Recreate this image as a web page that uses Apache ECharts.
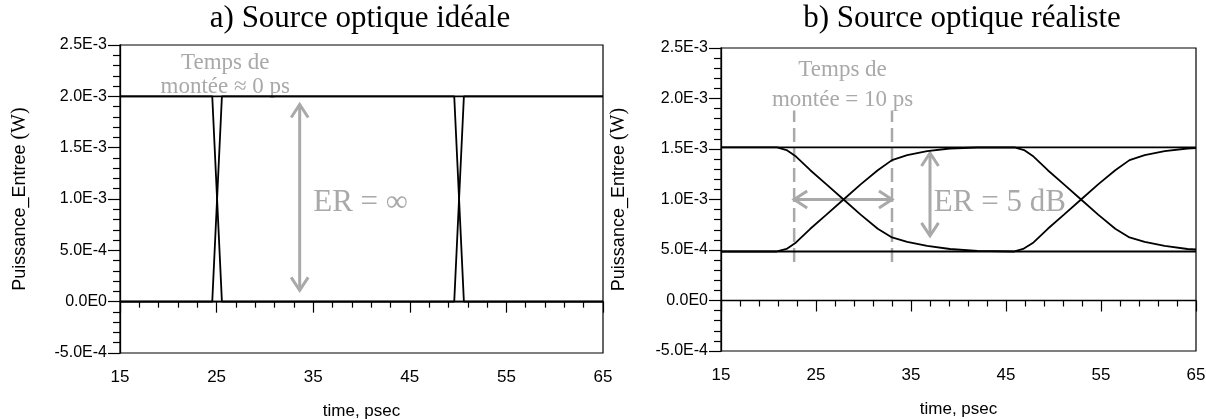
<!DOCTYPE html>
<html>
<head>
<meta charset="utf-8">
<script src="https://cdn.jsdelivr.net/npm/echarts@6/dist/echarts.min.js"></script>
<style>html,body{margin:0;padding:0;background:#fff;}#c{width:1206px;height:419px;}</style>
</head>
<body>
<div id="c"></div>
<script>
// ---------- data ----------
const titles = ['a) Source optique idéale', 'b) Source optique réaliste'];
const xTicks = [15, 25, 35, 45, 55, 65];
const yTicks = [-5e-4, 0, 5e-4, 1e-3, 1.5e-3, 2e-3, 2.5e-3];

// a) ideal source
const leftHigh = [[15, 2.0e-3], [65, 2.0e-3]];
const leftLow = [[15, 0], [65, 0]];
const leftTraceA = [[15, 0], [24.55, 0], [25.55, 2.0e-3], [49.6, 2.0e-3], [50.6, 0], [65, 0]];
const leftTraceB = [[15, 2.0e-3], [24.55, 2.0e-3], [25.55, 0], [49.6, 0], [50.6, 2.0e-3], [65, 2.0e-3]];

// b) realistic source
const rightHigh = [[15, 1.517e-3], [65, 1.517e-3]];
const rightLow = [[15, 0.485e-3], [65, 0.485e-3]];
const rightTraceA = [
  [15, 1.517e-3], [20.9, 1.517e-3], [21.9, 1.49e-3], [22.9, 1.425e-3], [24.4, 1.29e-3], [26.1, 1.15e-3],
  [27.9, 1.0e-3], [29.7, 0.85e-3], [31.5, 0.71e-3], [33.0, 0.624e-3], [34.6, 0.58e-3], [36.7, 0.54e-3],
  [39.1, 0.51e-3], [42.0, 0.492e-3], [45.8, 0.485e-3], [46.8, 0.51e-3], [47.9, 0.575e-3], [49.4, 0.71e-3],
  [51.1, 0.85e-3], [52.9, 1.0e-3], [54.7, 1.15e-3], [56.5, 1.29e-3], [58.0, 1.39e-3], [59.6, 1.44e-3],
  [61.7, 1.478e-3], [64.1, 1.505e-3], [65, 1.51e-3]
];
const rightTraceB = [
  [15, 0.485e-3], [20.8, 0.485e-3], [21.9, 0.51e-3], [22.9, 0.575e-3], [24.4, 0.71e-3], [26.1, 0.85e-3],
  [27.9, 1.0e-3], [29.7, 1.15e-3], [31.5, 1.29e-3], [33.0, 1.39e-3], [34.6, 1.44e-3], [36.7, 1.478e-3],
  [39.1, 1.505e-3], [42.0, 1.515e-3], [45.9, 1.517e-3], [46.9, 1.49e-3], [47.9, 1.425e-3], [49.4, 1.29e-3],
  [51.1, 1.15e-3], [52.9, 1.0e-3], [54.7, 0.85e-3], [56.5, 0.71e-3], [58.0, 0.624e-3], [59.6, 0.58e-3],
  [61.7, 0.54e-3], [64.1, 0.51e-3], [65, 0.505e-3]
];

// annotations (data coordinates)
const leftArrows = [[33.6, 1.92e-3, 33.6, 0.11e-3]];
const rightArrows = [[22.7, 1.0e-3, 33.0, 1.0e-3], [37.0, 1.46e-3, 37.0, 0.64e-3]];
const rightDashX = [22.7, 33.0];
const rightDashRange = [0.38e-3, 1.88e-3];
const leftTexts = [
  [25.9, 2.33e-3, 'Temps de', 23, 'center'],
  [25.9, 2.09e-3, 'montée ≈ 0 ps', 23, 'center'],
  [35.0, 0.96e-3, 'ER = ∞', 31, 'left']
];
const rightTexts = [
  [27.8, 2.28e-3, 'Temps de', 23, 'center'],
  [27.8, 1.985e-3, 'montée = 10 ps', 23, 'center'],
  [37.4, 0.97e-3, 'ER = 5 dB', 31, 'left']
];

// ---------- chart ----------
const GRAY = '#a9a9a9';
const SANS = '"Liberation Sans", Arial, sans-serif';
const SERIF = '"Liberation Serif", "Times New Roman", serif';

function fmtE(v) {
  if (Math.abs(v) < 1e-12) return '0.0E0';
  const e = Math.floor(Math.log10(Math.abs(v)) + 1e-9);
  const m = v / Math.pow(10, e);
  return m.toFixed(1) + 'E' + e;
}

const grids = [
  { left: 120, top: 45, width: 483, height: 308, show: true, borderColor: '#000', borderWidth: 1.2, containLabel: false, outerBoundsMode: 'none' },
  { left: 721, top: 48, width: 475, height: 303, show: true, borderColor: '#000', borderWidth: 1.2, containLabel: false, outerBoundsMode: 'none' }
];

function xAxis(i) {
  return {
    type: 'value', gridIndex: i, min: xTicks[0], max: xTicks[xTicks.length - 1], interval: 10,
    name: 'time, psec', nameLocation: 'middle', nameGap: 50,
    nameTextStyle: { fontFamily: SANS, fontSize: 17, color: '#000' },
    axisLine: { lineStyle: { color: '#000', width: 1.3 } },
    axisTick: { length: 11, lineStyle: { color: '#000', width: 1.2 } },
    minorTick: { show: true, splitNumber: 5, length: 6, lineStyle: { color: '#000', width: 1.2 } },
    splitLine: { show: false },
    axisLabel: { fontFamily: SANS, fontSize: 17, color: '#000', margin: 16 }
  };
}
function yAxis(i, gap) {
  return {
    type: 'value', gridIndex: i, min: yTicks[0], max: yTicks[yTicks.length - 1], interval: 5e-4,
    name: '{s|Puissance_Entree }{w|(W)}', nameLocation: 'middle', nameGap: gap,
    nameTextStyle: { rich: { s: { fontFamily: SANS, fontSize: 18, color: '#000' }, w: { fontFamily: SERIF, fontSize: 20, color: '#000' } } },
    axisLine: { onZero: false, lineStyle: { color: '#000', width: 1.3 } },
    axisTick: { length: 12, lineStyle: { color: '#000', width: 1.2 } },
    minorTick: { show: true, splitNumber: 5, length: 7, lineStyle: { color: '#000', width: 1.2 } },
    splitLine: { show: false },
    axisLabel: { fontFamily: SANS, fontSize: 16, color: '#000', margin: 13, formatter: fmtE }
  };
}

function lineSeries(i, data, w) {
  return {
    type: 'line', xAxisIndex: i, yAxisIndex: i, data: data, showSymbol: false, symbol: 'none',
    lineStyle: { color: '#000', width: w || 1.8 }, animation: false, silent: true
  };
}

function arrowSeries(i, data) {
  return {
    type: 'custom', xAxisIndex: i, yAxisIndex: i, data: data, animation: false, silent: true,
    encode: { x: [0, 2], y: [1, 3] },
    renderItem: function (params, api) {
      const p1 = api.coord([api.value(0), api.value(1)]);
      const p2 = api.coord([api.value(2), api.value(3)]);
      const dx = p2[0] - p1[0], dy = p2[1] - p1[1];
      const L = Math.sqrt(dx * dx + dy * dy);
      const ux = dx / L, uy = dy / L, nx = -uy, ny = ux;
      const h = 13, w = 8.5;
      const style = { stroke: GRAY, lineWidth: 3, fill: null };
      return {
        type: 'group', children: [
          { type: 'line', shape: { x1: p1[0], y1: p1[1], x2: p2[0], y2: p2[1] }, style: style },
          { type: 'polyline', shape: { points: [[p2[0] - h * ux + w * nx, p2[1] - h * uy + w * ny], p2, [p2[0] - h * ux - w * nx, p2[1] - h * uy - w * ny]] }, style: style },
          { type: 'polyline', shape: { points: [[p1[0] + h * ux + w * nx, p1[1] + h * uy + w * ny], p1, [p1[0] + h * ux - w * nx, p1[1] + h * uy - w * ny]] }, style: style }
        ]
      };
    }
  };
}

function textSeries(i, data) {
  return {
    type: 'custom', xAxisIndex: i, yAxisIndex: i, data: data.map(d => [d[0], d[1]]), animation: false, silent: true,
    clip: false,
    renderItem: function (params, api) {
      const d = data[params.dataIndex];
      const p = api.coord([d[0], d[1]]);
      return {
        type: 'text', x: p[0], y: p[1],
        style: { text: d[2], fill: GRAY, font: d[3] + 'px ' + SERIF, align: d[4], verticalAlign: 'middle' }
      };
    }
  };
}

function dashSeries(i) {
  return rightDashX.map(x => ({
    type: 'line', xAxisIndex: i, yAxisIndex: i, data: [[x, rightDashRange[0]], [x, rightDashRange[1]]],
    symbol: 'none', animation: false, silent: true,
    lineStyle: { color: GRAY, width: 2.5, type: [14, 6] }
  }));
}

const chart = echarts.init(document.getElementById('c'), null, { renderer: 'canvas' });
chart.setOption({
  animation: false,
  backgroundColor: '#fff',
  grid: grids,
  xAxis: [xAxis(0), xAxis(1)],
  yAxis: [yAxis(0, 90), yAxis(1, 92)],
  graphic: [
    { type: 'text', x: 360, y: 19, style: { text: titles[0], font: '31px ' + SERIF, fill: '#000', align: 'center', verticalAlign: 'middle' } },
    { type: 'text', x: 962, y: 19, style: { text: titles[1], font: '31px ' + SERIF, fill: '#000', align: 'center', verticalAlign: 'middle' } }
  ],
  series: [
    lineSeries(0, leftHigh), lineSeries(0, leftLow), lineSeries(0, leftTraceA), lineSeries(0, leftTraceB),
    arrowSeries(0, leftArrows), textSeries(0, leftTexts),
    ...dashSeries(1),
    lineSeries(1, rightHigh), lineSeries(1, rightLow), lineSeries(1, rightTraceA), lineSeries(1, rightTraceB),
    arrowSeries(1, rightArrows), textSeries(1, rightTexts)
  ]
});
</script>
</body>
</html>
